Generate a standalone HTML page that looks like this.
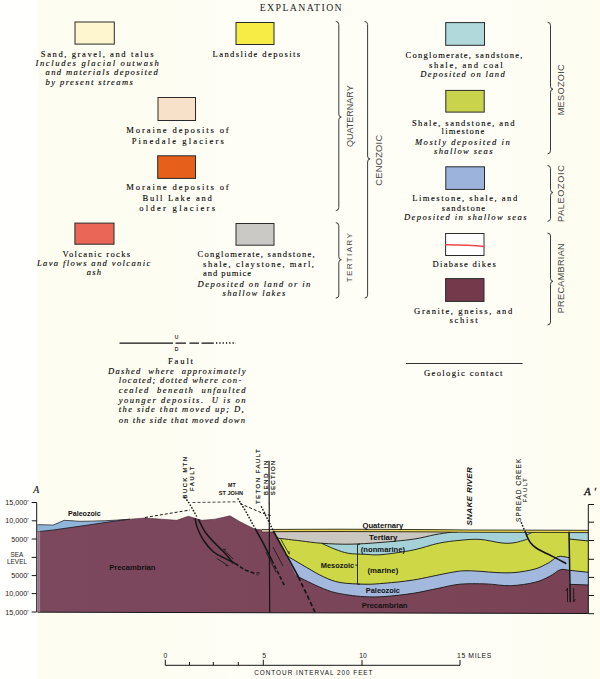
<!DOCTYPE html>
<html><head><meta charset="utf-8"><style>
html,body{margin:0;padding:0;background:#FDFCF0;overflow:hidden;}
svg{display:block;}
</style></head><body>
<svg width="600" height="679" viewBox="0 0 600 679">
<defs><linearGradient id="bgg" x1="0" y1="0" x2="600" y2="0" gradientUnits="userSpaceOnUse">
<stop offset="0" stop-color="#FEFDF0"/><stop offset="0.25" stop-color="#FEFDF2"/><stop offset="0.42" stop-color="#FEFEF7"/><stop offset="0.8" stop-color="#FEFEF7"/><stop offset="1" stop-color="#FEFDF0"/></linearGradient></defs>
<rect width="600" height="679" fill="url(#bgg)"/>
<rect width="38" height="679" fill="#FFFFFD"/>
<text x="259.7" y="10.9" font-family="Liberation Serif" font-size="9.8" textLength="82.0" lengthAdjust="spacing" fill="#222" stroke="#222" stroke-width="0"  xml:space="preserve">EXPLANATION</text>
<rect x="75.0" y="22.0" width="39.3" height="22.1" fill="#FEF6CF" stroke="#2a2a2a" stroke-width="1"/>
<rect x="236.0" y="22.5" width="38.0" height="22.0" fill="#F7EC45" stroke="#2a2a2a" stroke-width="1"/>
<rect x="158.0" y="97.5" width="37.5" height="23.0" fill="#F7E2C9" stroke="#2a2a2a" stroke-width="1"/>
<rect x="157.7" y="155.8" width="37.8" height="22.6" fill="#E6601C" stroke="#2a2a2a" stroke-width="1"/>
<rect x="74.9" y="223.1" width="39.1" height="21.1" fill="#EA6758" stroke="#2a2a2a" stroke-width="1"/>
<rect x="236.0" y="223.5" width="38.0" height="21.7" fill="#CBC9C6" stroke="#2a2a2a" stroke-width="1"/>
<rect x="445.7" y="22.6" width="38.8" height="22.7" fill="#B1D8DA" stroke="#2a2a2a" stroke-width="1"/>
<rect x="445.8" y="90.4" width="38.4" height="21.7" fill="#C9D34C" stroke="#2a2a2a" stroke-width="1"/>
<rect x="445.8" y="166.8" width="38.7" height="22.6" fill="#9CB4DC" stroke="#2a2a2a" stroke-width="1"/>
<rect x="445.6" y="233.5" width="38.4" height="22.0" fill="#FFFFFF" stroke="#2a2a2a" stroke-width="1"/>
<rect x="445.6" y="278.6" width="38.4" height="22.8" fill="#74394B" stroke="#2a2a2a" stroke-width="1"/>
<path d="M445.5 244.8 Q470 245 484.5 246.4" stroke="#F04848" stroke-width="1.5" fill="none"/>
<text x="40.8" y="56.9" font-family="Liberation Serif" font-size="8.6" textLength="112.7" lengthAdjust="spacing" fill="#000000" stroke="#000000" stroke-width="0.1"  xml:space="preserve">Sand, gravel, and talus</text>
<text x="35.4" y="66.0" font-family="Liberation Serif" font-size="8.6" font-style="italic" textLength="123.5" lengthAdjust="spacing" fill="#000000" stroke="#000000" stroke-width="0.1"  xml:space="preserve">Includes glacial outwash</text>
<text x="45.6" y="75.3" font-family="Liberation Serif" font-size="8.6" font-style="italic" textLength="112.2" lengthAdjust="spacing" fill="#000000" stroke="#000000" stroke-width="0.1"  xml:space="preserve">and materials deposited</text>
<text x="45.6" y="85.1" font-family="Liberation Serif" font-size="8.6" font-style="italic" textLength="87.3" lengthAdjust="spacing" fill="#000000" stroke="#000000" stroke-width="0.1"  xml:space="preserve">by present streams</text>
<text x="212.6" y="56.9" font-family="Liberation Serif" font-size="8.6" textLength="87.5" lengthAdjust="spacing" fill="#000000" stroke="#000000" stroke-width="0.1"  xml:space="preserve">Landslide deposits</text>
<text x="126.3" y="133.0" font-family="Liberation Serif" font-size="8.6" textLength="102.4" lengthAdjust="spacing" fill="#000000" stroke="#000000" stroke-width="0.1"  xml:space="preserve">Moraine deposits of</text>
<text x="131.7" y="143.8" font-family="Liberation Serif" font-size="8.6" textLength="92.1" lengthAdjust="spacing" fill="#000000" stroke="#000000" stroke-width="0.1"  xml:space="preserve">Pinedale glaciers</text>
<text x="126.3" y="189.8" font-family="Liberation Serif" font-size="8.6" textLength="102.4" lengthAdjust="spacing" fill="#000000" stroke="#000000" stroke-width="0.1"  xml:space="preserve">Moraine deposits of</text>
<text x="142.5" y="200.6" font-family="Liberation Serif" font-size="8.6" textLength="69.3" lengthAdjust="spacing" fill="#000000" stroke="#000000" stroke-width="0.1"  xml:space="preserve">Bull Lake and</text>
<text x="139.3" y="211.4" font-family="Liberation Serif" font-size="8.6" textLength="75.8" lengthAdjust="spacing" fill="#000000" stroke="#000000" stroke-width="0.1"  xml:space="preserve">older glaciers</text>
<text x="62.5" y="256.6" font-family="Liberation Serif" font-size="8.6" textLength="67.6" lengthAdjust="spacing" fill="#000000" stroke="#000000" stroke-width="0.1"  xml:space="preserve">Volcanic rocks</text>
<text x="36.9" y="266.4" font-family="Liberation Serif" font-size="8.6" font-style="italic" textLength="113.4" lengthAdjust="spacing" fill="#000000" stroke="#000000" stroke-width="0.1"  xml:space="preserve">Lava flows and volcanic</text>
<text x="86.8" y="274.6" font-family="Liberation Serif" font-size="8.6" font-style="italic" textLength="14.3" lengthAdjust="spacing" fill="#000000" stroke="#000000" stroke-width="0.1"  xml:space="preserve">ash</text>
<text x="197.6" y="256.9" font-family="Liberation Serif" font-size="8.6" textLength="117.0" lengthAdjust="spacing" fill="#000000" stroke="#000000" stroke-width="0.1"  xml:space="preserve">Conglomerate, sandstone,</text>
<text x="203.0" y="266.7" font-family="Liberation Serif" font-size="8.6" textLength="111.0" lengthAdjust="spacing" fill="#000000" stroke="#000000" stroke-width="0.1"  xml:space="preserve">shale, claystone, marl,</text>
<text x="203.0" y="276.4" font-family="Liberation Serif" font-size="8.6" textLength="48.1" lengthAdjust="spacing" fill="#000000" stroke="#000000" stroke-width="0.1"  xml:space="preserve">and pumice</text>
<text x="197.6" y="286.6" font-family="Liberation Serif" font-size="8.6" font-style="italic" textLength="112.7" lengthAdjust="spacing" fill="#000000" stroke="#000000" stroke-width="0.1"  xml:space="preserve">Deposited on land or in</text>
<text x="222.5" y="295.9" font-family="Liberation Serif" font-size="8.6" font-style="italic" textLength="62.8" lengthAdjust="spacing" fill="#000000" stroke="#000000" stroke-width="0.1"  xml:space="preserve">shallow lakes</text>
<text x="405.6" y="57.6" font-family="Liberation Serif" font-size="8.6" textLength="116.9" lengthAdjust="spacing" fill="#000000" stroke="#000000" stroke-width="0.1"  xml:space="preserve">Conglomerate, sandstone,</text>
<text x="429.0" y="67.75" font-family="Liberation Serif" font-size="8.6" textLength="73.7" lengthAdjust="spacing" fill="#000000" stroke="#000000" stroke-width="0.1"  xml:space="preserve">shale, and coal</text>
<text x="420.3" y="77.0" font-family="Liberation Serif" font-size="8.6" font-style="italic" textLength="84.5" lengthAdjust="spacing" fill="#000000" stroke="#000000" stroke-width="0.1"  xml:space="preserve">Deposited on land</text>
<text x="411.9" y="125.6" font-family="Liberation Serif" font-size="8.6" textLength="102.7" lengthAdjust="spacing" fill="#000000" stroke="#000000" stroke-width="0.1"  xml:space="preserve">Shale, sandstone, and</text>
<text x="441.6" y="134.3" font-family="Liberation Serif" font-size="8.6" textLength="42.7" lengthAdjust="spacing" fill="#000000" stroke="#000000" stroke-width="0.1"  xml:space="preserve">limestone</text>
<text x="414.9" y="145.1" font-family="Liberation Serif" font-size="8.6" font-style="italic" textLength="94.9" lengthAdjust="spacing" fill="#000000" stroke="#000000" stroke-width="0.1"  xml:space="preserve">Mostly deposited in</text>
<text x="434.0" y="154.4" font-family="Liberation Serif" font-size="8.6" font-style="italic" textLength="58.5" lengthAdjust="spacing" fill="#000000" stroke="#000000" stroke-width="0.1"  xml:space="preserve">shallow seas</text>
<text x="412.2" y="200.8" font-family="Liberation Serif" font-size="8.6" textLength="105.0" lengthAdjust="spacing" fill="#000000" stroke="#000000" stroke-width="0.1"  xml:space="preserve">Limestone, shale, and</text>
<text x="441.8" y="210.9" font-family="Liberation Serif" font-size="8.6" textLength="43.4" lengthAdjust="spacing" fill="#000000" stroke="#000000" stroke-width="0.1"  xml:space="preserve">sandstone</text>
<text x="404.0" y="220.2" font-family="Liberation Serif" font-size="8.6" font-style="italic" textLength="122.5" lengthAdjust="spacing" fill="#000000" stroke="#000000" stroke-width="0.1"  xml:space="preserve">Deposited in shallow seas</text>
<text x="432.5" y="267.3" font-family="Liberation Serif" font-size="8.6" textLength="63.3" lengthAdjust="spacing" fill="#000000" stroke="#000000" stroke-width="0.1"  xml:space="preserve">Diabase dikes</text>
<text x="414.1" y="313.8" font-family="Liberation Serif" font-size="8.6" textLength="98.1" lengthAdjust="spacing" fill="#000000" stroke="#000000" stroke-width="0.1"  xml:space="preserve">Granite, gneiss, and</text>
<text x="449.4" y="322.5" font-family="Liberation Serif" font-size="8.6" textLength="28.2" lengthAdjust="spacing" fill="#000000" stroke="#000000" stroke-width="0.1"  xml:space="preserve">schist</text>
<text x="168.0" y="363.75" font-family="Liberation Serif" font-size="8.6" textLength="25.0" lengthAdjust="spacing" fill="#000000" stroke="#000000" stroke-width="0.1"  xml:space="preserve">Fault</text>
<text x="108.0" y="373.75" font-family="Liberation Serif" font-size="8.6" font-style="italic" textLength="137.5" lengthAdjust="spacing" fill="#000000" stroke="#000000" stroke-width="0.1"  xml:space="preserve">Dashed  where  approximately</text>
<text x="118.75" y="383.0" font-family="Liberation Serif" font-size="8.6" font-style="italic" textLength="122.5" lengthAdjust="spacing" fill="#000000" stroke="#000000" stroke-width="0.1"  xml:space="preserve">located; dotted where con-</text>
<text x="118.75" y="393.0" font-family="Liberation Serif" font-size="8.6" font-style="italic" textLength="126.8" lengthAdjust="spacing" fill="#000000" stroke="#000000" stroke-width="0.1"  xml:space="preserve">cealed  beneath  unfaulted</text>
<text x="118.75" y="402.5" font-family="Liberation Serif" font-size="8.6" font-style="italic" textLength="126.8" lengthAdjust="spacing" fill="#000000" stroke="#000000" stroke-width="0.1"  xml:space="preserve">younger deposits.  U is on</text>
<text x="118.75" y="412.0" font-family="Liberation Serif" font-size="8.6" font-style="italic" textLength="125.0" lengthAdjust="spacing" fill="#000000" stroke="#000000" stroke-width="0.1"  xml:space="preserve">the side that moved up; D,</text>
<text x="118.75" y="422.5" font-family="Liberation Serif" font-size="8.6" font-style="italic" textLength="126.2" lengthAdjust="spacing" fill="#000000" stroke="#000000" stroke-width="0.1"  xml:space="preserve">on the side that moved down</text>
<text x="424.0" y="376.0" font-family="Liberation Serif" font-size="8.6" textLength="78.5" lengthAdjust="spacing" fill="#000000" stroke="#000000" stroke-width="0.1"  xml:space="preserve">Geologic contact</text>
<path d="M335.8 21.5 Q338.8 21.5 338.8 24.5 L338.8 114 Q338.8 117 341.3 117 Q338.8 117 338.8 120 L338.8 207.5 Q338.8 210.5 335.8 210.5" stroke="#3a3a3a" stroke-width="1" fill="none"/>
<path d="M335.8 222.7 Q338.8 222.7 338.8 225.7 L338.8 256.7 Q338.8 259.7 341.3 259.7 Q338.8 259.7 338.8 262.7 L338.8 295.1 Q338.8 298.1 335.8 298.1" stroke="#3a3a3a" stroke-width="1" fill="none"/>
<path d="M364.6 21.5 Q367.6 21.5 367.6 24.5 L367.6 156 Q367.6 159 370.1 159 Q367.6 159 367.6 162 L367.6 295.1 Q367.6 298.1 364.6 298.1" stroke="#3a3a3a" stroke-width="1" fill="none"/>
<path d="M547.5 22.3 Q550.5 22.3 550.5 25.3 L550.5 86.2 Q550.5 89.2 553.0 89.2 Q550.5 89.2 550.5 92.2 L550.5 150.8 Q550.5 153.8 547.5 153.8" stroke="#3a3a3a" stroke-width="1" fill="none"/>
<path d="M547.5 165.5 Q550.5 165.5 550.5 168.5 L550.5 189.5 Q550.5 192.5 553.0 192.5 Q550.5 192.5 550.5 195.5 L550.5 218.3 Q550.5 221.3 547.5 221.3" stroke="#3a3a3a" stroke-width="1" fill="none"/>
<path d="M547.5 233 Q550.5 233 550.5 236 L550.5 278.3 Q550.5 281.3 553.0 281.3 Q550.5 281.3 550.5 284.3 L550.5 322 Q550.5 325 547.5 325" stroke="#3a3a3a" stroke-width="1" fill="none"/>
<text transform="translate(352.9,147.0) rotate(-90)" x="0" y="0" font-family="Liberation Sans" font-size="9.00" font-weight="normal" textLength="61.7" lengthAdjust="spacing" fill="#444">QUATERNARY</text>
<text transform="translate(382.4,185.8) rotate(-90)" x="0" y="0" font-family="Liberation Sans" font-size="9.30" font-weight="normal" textLength="51.0" lengthAdjust="spacing" fill="#444">CENOZOIC</text>
<text transform="translate(351.9,282.2) rotate(-90)" x="0" y="0" font-family="Liberation Sans" font-size="8.10" font-weight="normal" textLength="49.0" lengthAdjust="spacing" fill="#444">TERTIARY</text>
<text transform="translate(564.4,115.3) rotate(-90)" x="0" y="0" font-family="Liberation Sans" font-size="9.20" font-weight="normal" textLength="51.0" lengthAdjust="spacing" fill="#444">MESOZOIC</text>
<text transform="translate(564.4,221.9) rotate(-90)" x="0" y="0" font-family="Liberation Sans" font-size="9.20" font-weight="normal" textLength="56.7" lengthAdjust="spacing" fill="#444">PALEOZOIC</text>
<text transform="translate(564.1,313.3) rotate(-90)" x="0" y="0" font-family="Liberation Sans" font-size="9.10" font-weight="normal" textLength="70.0" lengthAdjust="spacing" fill="#444">PRECAMBRIAN</text>
<path d="M119.5 343 H173" stroke="#111" stroke-width="1.25"/>
<path d="M175.5 343 H186 M189.5 343 H199 M201.5 343 H213.8" stroke="#111" stroke-width="1.25"/>
<path d="M216 343 H236" stroke="#111" stroke-width="1.3" stroke-dasharray="1.3 2"/>
<text x="174.8" y="338.8" font-family="Liberation Sans" font-size="5" textLength="4.2" lengthAdjust="spacing" fill="#000000" stroke="#000000" stroke-width="0.1"  xml:space="preserve">U</text>
<text x="174.8" y="350.5" font-family="Liberation Sans" font-size="5" textLength="4.2" lengthAdjust="spacing" fill="#000000" stroke="#000000" stroke-width="0.1"  xml:space="preserve">D</text>
<path d="M406 363.5 H522.5" stroke="#333" stroke-width="1"/>

<defs><linearGradient id="pg" x1="37" y1="0" x2="588" y2="0" gradientUnits="userSpaceOnUse"><stop offset="0" stop-color="#7C485E"/><stop offset="0.45" stop-color="#7B465A"/><stop offset="1" stop-color="#7A4254"/></linearGradient></defs>
<path d="M37.5 524.7 L53.3 525 L64.2 520.3 L80 521.3 L105 520.8 L130 519.2 L145 518 L161.7 519.2 L176.7 520.3 L188.3 516.3 L195 518.3 L201.7 520.3 L215 519.2 L230 515.8 L240 521.7 L255 529.2 L262 529.8 L262 529.6 L300 529.4 L340 529.3 L390 529.5 L430 529.7 L470 530.1 L520 530.2 L560 530.3 L588.3 530.4 L588.3 613.6 L37.5 612 Z" fill="url(#pg)"/>
<polygon points="37.5,524.7 53.3,525.0 64.2,520.3 80.0,521.3 105.0,520.8 130.0,519.2 113.3,521.3 88.3,525.0 53.3,530.0 37.5,531.7" fill="#8FB5DA"/>
<polyline points="130.0,519.2 113.3,521.3 88.3,525.0 53.3,530.0 37.5,531.7" fill="none" stroke="#161616" stroke-width="0.8"/>
<path d="M285.64 555.00 C289.15 557.08 300.42 563.88 306.70 567.50 C312.98 571.12 317.75 574.20 323.30 576.70 C328.85 579.20 333.05 581.25 340.00 582.50 C346.95 583.75 357.50 584.08 365.00 584.20 C372.50 584.32 376.95 583.90 385.00 583.20 C393.05 582.50 403.02 581.65 413.30 580.00 C423.58 578.35 438.37 574.83 446.70 573.30 C455.03 571.77 457.75 571.13 463.30 570.80 C468.85 570.47 474.38 571.00 480.00 571.30 C485.62 571.60 491.17 572.40 497.00 572.60 C502.83 572.80 508.67 573.10 515.00 572.50 C521.33 571.90 529.45 570.58 535.00 569.00 C540.55 567.42 544.97 564.78 548.30 563.00 C551.63 561.22 553.00 559.42 555.00 558.30 C557.00 557.18 557.97 556.40 560.30 556.30 C562.63 556.20 567.55 557.47 569.00 557.70 L569.00 570.30 C567.55 570.20 563.52 568.70 560.30 569.70 C557.08 570.70 553.92 574.20 549.70 576.30 C545.48 578.40 541.50 580.73 535.00 582.30 C528.50 583.87 518.87 585.43 510.70 585.70 C502.53 585.97 494.45 584.15 486.00 583.90 C477.55 583.65 467.95 583.47 460.00 584.20 C452.05 584.93 446.08 586.78 438.30 588.30 C430.52 589.82 422.18 591.93 413.30 593.30 C404.42 594.67 393.05 595.93 385.00 596.50 C376.95 597.07 371.12 596.95 365.00 596.70 C358.88 596.45 353.85 595.83 348.30 595.00 C342.75 594.17 337.25 593.37 331.70 591.70 C326.15 590.03 320.91 587.65 315.00 585.00 C309.09 582.35 299.38 577.33 296.25 575.80 Z" fill="#A2B8DC"/>
<path d="M273.91 532 L569.3 532 L569 557.7 L569.00 557.70 C567.55 557.47 562.63 556.20 560.30 556.30 C557.97 556.40 557.00 557.18 555.00 558.30 C553.00 559.42 551.63 561.22 548.30 563.00 C544.97 564.78 540.55 567.42 535.00 569.00 C529.45 570.58 521.33 571.90 515.00 572.50 C508.67 573.10 502.83 572.80 497.00 572.60 C491.17 572.40 485.62 571.60 480.00 571.30 C474.38 571.00 468.85 570.47 463.30 570.80 C457.75 571.13 455.03 571.77 446.70 573.30 C438.37 574.83 423.58 578.35 413.30 580.00 C403.02 581.65 393.05 582.50 385.00 583.20 C376.95 583.90 372.50 584.32 365.00 584.20 C357.50 584.08 346.95 583.75 340.00 582.50 C333.05 581.25 328.85 579.20 323.30 576.70 C317.75 574.20 312.98 571.12 306.70 567.50 C300.42 563.88 289.15 557.08 285.64 555.00 Z" fill="#CED846"/>
<path d="M321.70 543.30 C326.42 543.45 340.28 544.33 350.00 544.20 C359.72 544.07 369.45 543.33 380.00 542.50 C390.55 541.67 404.13 540.50 413.30 539.20 C422.47 537.90 428.88 535.83 435.00 534.70 C441.12 533.57 446.17 532.85 450.00 532.40 C453.83 531.95 456.67 532.07 458.00 532.00 L533 532 L526.5 535.5 L527.8 539 L527.80 539.00 C525.67 539.60 519.30 541.93 515.00 542.60 C510.70 543.27 507.83 543.53 502.00 543.00 C496.17 542.47 487.00 539.85 480.00 539.40 C473.00 538.95 466.95 539.65 460.00 540.30 C453.05 540.95 446.08 541.68 438.30 543.30 C430.52 544.92 422.68 548.12 413.30 550.00 C403.92 551.88 390.05 553.88 382.00 554.60 C373.95 555.32 370.62 554.52 365.00 554.30 C359.38 554.08 353.30 554.15 348.30 553.30 C343.30 552.45 339.43 550.87 335.00 549.20 C330.57 547.53 323.92 544.28 321.70 543.30 Z" fill="#A4D2D8"/>
<path d="M273.91 532 L458 532 L458.00 532.00 C456.67 532.07 453.83 531.95 450.00 532.40 C446.17 532.85 441.12 533.57 435.00 534.70 C428.88 535.83 422.47 537.90 413.30 539.20 C404.13 540.50 390.55 541.67 380.00 542.50 C369.45 543.33 359.72 544.07 350.00 544.20 C340.28 544.33 330.03 543.87 321.70 543.30 C313.37 542.73 307.08 541.63 300.00 540.80 C292.92 539.97 283.07 538.83 279.20 538.30 C275.33 537.77 277.17 537.72 276.77 537.60 Z" fill="#CAC6C0"/>
<polygon points="569.3,532.0 588.3,532.0 588.3,541.0 569.3,539.0" fill="#A4D2D8"/>
<polygon points="569.3,539.0 588.3,541.0 588.3,572.3 569.3,570.3" fill="#CED846"/>
<polygon points="569.3,570.3 588.3,572.3 588.3,585.0 569.3,584.3" fill="#A2B8DC"/>
<path d="M285.64 555.00 C289.15 557.08 300.42 563.88 306.70 567.50 C312.98 571.12 317.75 574.20 323.30 576.70 C328.85 579.20 333.05 581.25 340.00 582.50 C346.95 583.75 357.50 584.08 365.00 584.20 C372.50 584.32 376.95 583.90 385.00 583.20 C393.05 582.50 403.02 581.65 413.30 580.00 C423.58 578.35 438.37 574.83 446.70 573.30 C455.03 571.77 457.75 571.13 463.30 570.80 C468.85 570.47 474.38 571.00 480.00 571.30 C485.62 571.60 491.17 572.40 497.00 572.60 C502.83 572.80 508.67 573.10 515.00 572.50 C521.33 571.90 529.45 570.58 535.00 569.00 C540.55 567.42 544.97 564.78 548.30 563.00 C551.63 561.22 553.00 559.42 555.00 558.30 C557.00 557.18 557.97 556.40 560.30 556.30 C562.63 556.20 567.55 557.47 569.00 557.70" fill="none" stroke="#161616" stroke-width="0.9" />
<path d="M296.25 575.80 C299.38 577.33 309.09 582.35 315.00 585.00 C320.91 587.65 326.15 590.03 331.70 591.70 C337.25 593.37 342.75 594.17 348.30 595.00 C353.85 595.83 358.88 596.45 365.00 596.70 C371.12 596.95 376.95 597.07 385.00 596.50 C393.05 595.93 404.42 594.67 413.30 593.30 C422.18 591.93 430.52 589.82 438.30 588.30 C446.08 586.78 452.05 584.93 460.00 584.20 C467.95 583.47 477.55 583.65 486.00 583.90 C494.45 584.15 502.53 585.97 510.70 585.70 C518.87 585.43 528.50 583.87 535.00 582.30 C541.50 580.73 545.48 578.40 549.70 576.30 C553.92 574.20 557.08 570.70 560.30 569.70 C563.52 568.70 567.55 570.20 569.00 570.30" fill="none" stroke="#161616" stroke-width="0.9" />
<path d="M276.77 537.60 C277.17 537.72 275.33 537.77 279.20 538.30 C283.07 538.83 292.92 539.97 300.00 540.80 C307.08 541.63 313.37 542.73 321.70 543.30 C330.03 543.87 340.28 544.33 350.00 544.20 C359.72 544.07 369.45 543.33 380.00 542.50 C390.55 541.67 404.13 540.50 413.30 539.20 C422.47 537.90 428.88 535.83 435.00 534.70 C441.12 533.57 446.17 532.85 450.00 532.40 C453.83 531.95 456.67 532.07 458.00 532.00" fill="none" stroke="#161616" stroke-width="0.9" />
<path d="M321.70 543.30 C323.92 544.28 330.57 547.53 335.00 549.20 C339.43 550.87 343.30 552.45 348.30 553.30 C353.30 554.15 359.38 554.08 365.00 554.30 C370.62 554.52 373.95 555.32 382.00 554.60 C390.05 553.88 403.92 551.88 413.30 550.00 C422.68 548.12 430.52 544.92 438.30 543.30 C446.08 541.68 453.05 540.95 460.00 540.30 C466.95 539.65 473.00 538.95 480.00 539.40 C487.00 539.85 496.17 542.47 502.00 543.00 C507.83 543.53 510.70 543.27 515.00 542.60 C519.30 541.93 525.67 539.60 527.80 539.00" fill="none" stroke="#161616" stroke-width="0.9" />
<polyline points="569.3,539.0 588.3,541.0" fill="none" stroke="#161616" stroke-width="0.9" />
<polyline points="569.3,570.3 588.3,572.3" fill="none" stroke="#161616" stroke-width="0.9" />
<polyline points="569.3,584.3 588.3,585.0" fill="none" stroke="#161616" stroke-width="0.9" />
<polyline points="526.3,535.2 533.5,531.8" fill="none" stroke="#161616" stroke-width="0.8" />
<path d="M262 529.5 L300 529.3 L340 529.2 L390 529.4 L430 529.6 L470 530.0 L520 530.1 L560 530.2 L588.3 530.3 L588.3 532.5999999999999 L560 532.5 L520 532.4 L470 532.3 L430 531.9 L390 531.6999999999999 L340 531.5 L300 531.5999999999999 L262 531.8 Z" fill="#EBD84C"/>
<polyline points="262.0,529.5 300.0,529.3 340.0,529.2 390.0,529.4 430.0,529.6 470.0,530.0 520.0,530.1 560.0,530.2 588.3,530.3" fill="none" stroke="#161616" stroke-width="0.8" />
<polyline points="262.0,531.8 300.0,531.6 340.0,531.5 390.0,531.7 430.0,531.9 470.0,532.3 520.0,532.4 560.0,532.5 588.3,532.6" fill="none" stroke="#161616" stroke-width="0.8" />
<rect x="262.3" y="529.9" width="11" height="1.7" fill="#D6CFB4"/>
<polyline points="37.5,524.7 53.3,525.0 64.2,520.3 80.0,521.3 105.0,520.8 130.0,519.2" fill="none" stroke="#222" stroke-width="0.7" />
<polyline points="130.0,519.2 145.0,518.0 161.7,519.2 176.7,520.3 188.3,516.3 195.0,518.3 201.7,520.3 215.0,519.2 230.0,515.8 240.0,521.7 255.0,529.2 262.0,529.8" fill="none" stroke="#4a2838" stroke-width="0.6" />
<polyline points="37.5,612.2 588.3,613.5" fill="none" stroke="#161616" stroke-width="1.0" />
<rect x="38.3" y="531" width="1.8" height="81" fill="#D9C2CC" opacity="0.45"/>
<polyline points="184.5,497.0 188.3,501.7 191.7,507.5 196.7,516.5" fill="none" stroke="#161616" stroke-width="1.5" stroke-dasharray="1.6 1.5"/>
<path d="M195.00 518.30 C195.42 519.97 196.12 524.68 197.50 528.30 C198.88 531.92 200.67 536.10 203.30 540.00 C205.93 543.90 209.68 548.65 213.30 551.70 C216.92 554.75 221.38 556.37 225.00 558.30 C228.62 560.23 233.33 562.47 235.00 563.30" fill="none" stroke="#161616" stroke-width="1.5" />
<path d="M198.30 519.20 C199.42 521.28 202.22 527.68 205.00 531.70 C207.78 535.72 211.67 539.70 215.00 543.30 C218.33 546.90 221.95 549.97 225.00 553.30 C228.05 556.63 231.92 561.63 233.30 563.30" fill="none" stroke="#161616" stroke-width="1.5" />
<polyline points="235.0,563.3 245.0,570.0 256.7,574.2" fill="none" stroke="#161616" stroke-width="1.6" stroke-dasharray="4 2"/>
<text x="256" y="575.5" font-family="Liberation Sans" font-size="6" font-weight="bold" fill="#161616">?</text>
<polyline points="223.3,549.2 233.3,559.2" fill="none" stroke="#161616" stroke-width="0.8" />
<polyline points="223.3,549.2 226.0,549.4" fill="none" stroke="#161616" stroke-width="0.8" />
<polyline points="216.7,558.3 228.3,565.8" fill="none" stroke="#161616" stroke-width="0.8" />
<polyline points="228.3,565.8 225.5,565.6" fill="none" stroke="#161616" stroke-width="0.8" />
<polyline points="237.7,498.3 245.0,510.0 255.0,528.3" fill="none" stroke="#161616" stroke-width="1.5" stroke-dasharray="1.6 1.5"/>
<path d="M255.00 528.30 C256.38 530.80 260.52 538.02 263.30 543.30 C266.08 548.58 270.30 557.22 271.70 560.00" fill="none" stroke="#161616" stroke-width="1.6" />
<polyline points="271.7,560.0 285.0,586.7" fill="none" stroke="#161616" stroke-width="1.6" stroke-dasharray="4 2"/>
<polyline points="266.0,552.0 276.0,572.0" fill="none" stroke="#161616" stroke-width="0.8" />
<polyline points="273.0,547.0 283.0,566.0" fill="none" stroke="#161616" stroke-width="0.8" />
<polyline points="261.2,506.3 267.0,518.0 273.3,530.8" fill="none" stroke="#161616" stroke-width="1.5" stroke-dasharray="1.6 1.5"/>
<polyline points="273.3,530.8 298.3,576.7" fill="none" stroke="#161616" stroke-width="1.7" />
<polyline points="298.3,576.7 315.0,612.0" fill="none" stroke="#161616" stroke-width="1.7" stroke-dasharray="4.5 2.5"/>
<polyline points="280.8,539.2 289.2,554.2" fill="none" stroke="#161616" stroke-width="0.8" />
<polyline points="289.2,554.2 289.0,551.0" fill="none" stroke="#161616" stroke-width="0.8" />
<polyline points="145.0,517.5 190.0,510.0" fill="none" stroke="#161616" stroke-width="1.0" stroke-dasharray="3 2"/>
<polyline points="192.5,502.5 237.7,501.8" fill="none" stroke="#444" stroke-width="1.0" stroke-dasharray="3 2"/>
<polyline points="240.0,503.5 262.0,513.0 272.0,516.0" fill="none" stroke="#161616" stroke-width="1.0" stroke-dasharray="3 2"/>
<polyline points="269.0,460.8 269.7,612.5" fill="none" stroke="#161616" stroke-width="1.2" />
<polyline points="521.2,522.2 524.7,531.0" fill="none" stroke="#161616" stroke-width="1.5" stroke-dasharray="1.6 1.5"/>
<path d="M525.00 531.00 C525.38 532.00 526.38 535.03 527.30 537.00 C528.22 538.97 529.13 541.05 530.50 542.80 C531.87 544.55 533.33 545.97 535.50 547.50 C537.67 549.03 540.58 550.48 543.50 552.00 C546.42 553.52 549.20 554.65 553.00 556.60 C556.80 558.55 564.08 562.52 566.30 563.70" fill="none" stroke="#161616" stroke-width="1.6" />
<polyline points="569.0,531.7 570.3,602.3" fill="none" stroke="#161616" stroke-width="1.5" />
<polyline points="565.8,591.0 567.5,588.0 567.5,602.0" fill="none" stroke="#161616" stroke-width="0.9" />
<polyline points="573.7,588.0 573.7,602.0 575.4,599.0" fill="none" stroke="#161616" stroke-width="0.9" />
<polyline points="36.7,502.5 36.7,612.0" fill="none" stroke="#161616" stroke-width="1.0" />
<polyline points="31.7,502.5 36.7,502.5" fill="none" stroke="#161616" stroke-width="1.0" />
<polyline points="31.7,520.8 36.7,520.8" fill="none" stroke="#161616" stroke-width="1.0" />
<polyline points="31.7,539.0 36.7,539.0" fill="none" stroke="#161616" stroke-width="1.0" />
<polyline points="31.7,557.4 36.7,557.4" fill="none" stroke="#161616" stroke-width="1.0" />
<polyline points="31.7,575.6 36.7,575.6" fill="none" stroke="#161616" stroke-width="1.0" />
<polyline points="31.7,593.6 36.7,593.6" fill="none" stroke="#161616" stroke-width="1.0" />
<polyline points="31.7,612.0 36.7,612.0" fill="none" stroke="#161616" stroke-width="1.0" />
<polyline points="588.3,504.5 588.3,613.7" fill="none" stroke="#161616" stroke-width="1.0" />
<polyline points="588.3,504.5 594.0,504.5" fill="none" stroke="#161616" stroke-width="1.0" />
<polyline points="588.3,522.2 594.0,522.2" fill="none" stroke="#161616" stroke-width="1.0" />
<polyline points="588.3,540.5 594.0,540.5" fill="none" stroke="#161616" stroke-width="1.0" />
<polyline points="588.3,559.3 594.0,559.3" fill="none" stroke="#161616" stroke-width="1.0" />
<polyline points="588.3,577.4 594.0,577.4" fill="none" stroke="#161616" stroke-width="1.0" />
<polyline points="588.3,595.5 594.0,595.5" fill="none" stroke="#161616" stroke-width="1.0" />
<polyline points="588.3,613.7 594.0,613.7" fill="none" stroke="#161616" stroke-width="1.0" />
<text x="68" y="515.8" font-family="Liberation Sans" font-size="7.5" font-weight="bold" textLength="32.8" lengthAdjust="spacingAndGlyphs" fill="#111">Paleozoic</text>
<text x="109.2" y="569.5" font-family="Liberation Sans" font-size="7.5" font-weight="bold" textLength="46.3" lengthAdjust="spacingAndGlyphs" fill="#111">Precambrian</text>
<text x="362.5" y="527.5" font-family="Liberation Sans" font-size="7.5" font-weight="bold" textLength="40.8" lengthAdjust="spacingAndGlyphs" fill="#111">Quaternary</text>
<text x="369" y="540.3" font-family="Liberation Sans" font-size="7.5" font-weight="bold" textLength="28.5" lengthAdjust="spacingAndGlyphs" fill="#111">Tertiary</text>
<text x="360.8" y="551.7" font-family="Liberation Sans" font-size="7.5" font-weight="bold" textLength="44.2" lengthAdjust="spacingAndGlyphs" fill="#111">(nonmarine)</text>
<text x="320.8" y="567.5" font-family="Liberation Sans" font-size="7.5" font-weight="bold" textLength="33.4" lengthAdjust="spacingAndGlyphs" fill="#111">Mesozoic</text>
<text x="367.5" y="572.5" font-family="Liberation Sans" font-size="7.5" font-weight="bold" textLength="30.8" lengthAdjust="spacingAndGlyphs" fill="#111">(marine)</text>
<text x="365.8" y="593.3" font-family="Liberation Sans" font-size="7.5" font-weight="bold" textLength="34.2" lengthAdjust="spacingAndGlyphs" fill="#111">Paleozoic</text>
<text x="361.7" y="607.5" font-family="Liberation Sans" font-size="7.5" font-weight="bold" textLength="45.8" lengthAdjust="spacingAndGlyphs" fill="#111">Precambrian</text>
<polyline points="360.0,544.2 357.5,544.2 357.5,584.2 360.0,584.2" fill="none" stroke="#161616" stroke-width="0.9" />
<polyline points="355.3,565.2 357.5,565.2" fill="none" stroke="#161616" stroke-width="0.9" />
<text transform="translate(187.3,498.5) rotate(-90)" font-family="Liberation Sans" font-size="5.60" font-weight="normal" textLength="41.6" lengthAdjust="spacing" fill="#151515" stroke="#151515" stroke-width="0.2">BUCK MTN</text>
<text transform="translate(193.8,490.9) rotate(-90)" font-family="Liberation Sans" font-size="5.60" font-weight="normal" textLength="24.3" lengthAdjust="spacing" fill="#151515" stroke="#151515" stroke-width="0.2">FAULT</text>
<text x="228" y="486.8" font-family="Liberation Sans" font-size="5.6" font-weight="bold" textLength="7.6" lengthAdjust="spacingAndGlyphs" fill="#111">MT</text>
<text x="218.8" y="494.8" font-family="Liberation Sans" font-size="5.6" font-weight="bold" textLength="24.2" lengthAdjust="spacingAndGlyphs" fill="#111">ST JOHN</text>
<text transform="translate(260.4,504.0) rotate(-90)" font-family="Liberation Sans" font-size="6.00" font-weight="normal" textLength="54.7" lengthAdjust="spacing" fill="#151515" stroke="#151515" stroke-width="0.2">TETON FAULT</text>
<text transform="translate(267.5,495.3) rotate(-90)" font-family="Liberation Sans" font-size="6.20" font-weight="normal" textLength="34.5" lengthAdjust="spacing" fill="#151515" stroke="#151515" stroke-width="0.2">BEND IN</text>
<text transform="translate(275.0,495.3) rotate(-90)" font-family="Liberation Sans" font-size="6.00" font-weight="normal" textLength="34.5" lengthAdjust="spacing" fill="#151515" stroke="#151515" stroke-width="0.2">SECTION</text>
<text transform="translate(472.0,525.6) rotate(-90)" font-family="Liberation Sans" font-size="8.10" font-weight="bold" font-style="italic" textLength="58.5" lengthAdjust="spacing" fill="#151515" stroke="#151515" stroke-width="0">SNAKE RIVER</text>
<text transform="translate(521.3,521.9) rotate(-90)" font-family="Liberation Sans" font-size="6.40" font-weight="normal" textLength="63.1" lengthAdjust="spacing" fill="#151515" stroke="#151515" stroke-width="0.1">SPREAD CREEK</text>
<text transform="translate(526.7,502.5) rotate(-90)" font-family="Liberation Sans" font-size="6.00" font-weight="normal" textLength="24.2" lengthAdjust="spacing" fill="#151515" stroke="#151515" stroke-width="0.1">FAULT</text>
<text x="33.2" y="492.7" font-family="Liberation Serif" font-size="9.8" font-weight="normal" font-style="italic" textLength="7.0" lengthAdjust="spacing" fill="#111" stroke="#111" stroke-width="0.1">A</text>
<text x="584.3" y="494.7" font-family="Liberation Serif" font-size="10.5" font-weight="normal" font-style="italic" textLength="11.7" lengthAdjust="spacing" fill="#111" stroke="#111" stroke-width="0.3">A′</text>
<text x="28.6" y="505.1" font-family="Liberation Sans" font-size="7.2" text-anchor="end" fill="#1a1a1a" >15,000'</text>
<text x="28.6" y="523.4" font-family="Liberation Sans" font-size="7.2" text-anchor="end" fill="#1a1a1a" >10,000'</text>
<text x="28.6" y="541.6" font-family="Liberation Sans" font-size="7.2" text-anchor="end" fill="#1a1a1a" >5000'</text>
<text x="28.6" y="578.2" font-family="Liberation Sans" font-size="7.2" text-anchor="end" fill="#1a1a1a" >5000'</text>
<text x="28.6" y="596.2" font-family="Liberation Sans" font-size="7.2" text-anchor="end" fill="#1a1a1a" >10,000'</text>
<text x="28.6" y="614.6" font-family="Liberation Sans" font-size="7.2" text-anchor="end" fill="#1a1a1a" >15,000'</text>
<text x="17" y="556.6" font-family="Liberation Sans" font-size="6.4" text-anchor="middle" fill="#1a1a1a" >SEA</text>
<text x="17" y="564.2" font-family="Liberation Sans" font-size="6.4" text-anchor="middle" fill="#1a1a1a" >LEVEL</text>
<polyline points="165.3,665.3 460.0,665.3" fill="none" stroke="#161616" stroke-width="1.0" />
<polyline points="165.3,659.7 165.3,665.3" fill="none" stroke="#161616" stroke-width="1.0" />
<polyline points="189.5,662.0 189.5,665.3" fill="none" stroke="#161616" stroke-width="1.0" />
<polyline points="213.3,662.0 213.3,665.3" fill="none" stroke="#161616" stroke-width="1.0" />
<polyline points="238.3,662.0 238.3,665.3" fill="none" stroke="#161616" stroke-width="1.0" />
<polyline points="263.3,659.7 263.3,665.3" fill="none" stroke="#161616" stroke-width="1.0" />
<polyline points="362.0,660.0 362.0,665.3" fill="none" stroke="#161616" stroke-width="1.0" />
<polyline points="460.0,660.0 460.0,665.3" fill="none" stroke="#161616" stroke-width="1.0" />
<text x="165.3" y="657.6" font-family="Liberation Sans" font-size="6.8" text-anchor="middle" fill="#1a1a1a">0</text>
<text x="264.2" y="657.6" font-family="Liberation Sans" font-size="6.8" text-anchor="middle" fill="#1a1a1a">5</text>
<text x="363" y="657.6" font-family="Liberation Sans" font-size="6.8" text-anchor="middle" fill="#1a1a1a">10</text>
<text x="457" y="657.6" font-family="Liberation Sans" font-size="6.8" font-weight="normal" textLength="34.3" lengthAdjust="spacing" fill="#111">15 MILES</text>
<text x="254.2" y="674.7" font-family="Liberation Sans" font-size="6.4" font-weight="normal" textLength="118.3" lengthAdjust="spacing" fill="#111">CONTOUR INTERVAL 200 FEET</text>
</svg>
</body></html>
